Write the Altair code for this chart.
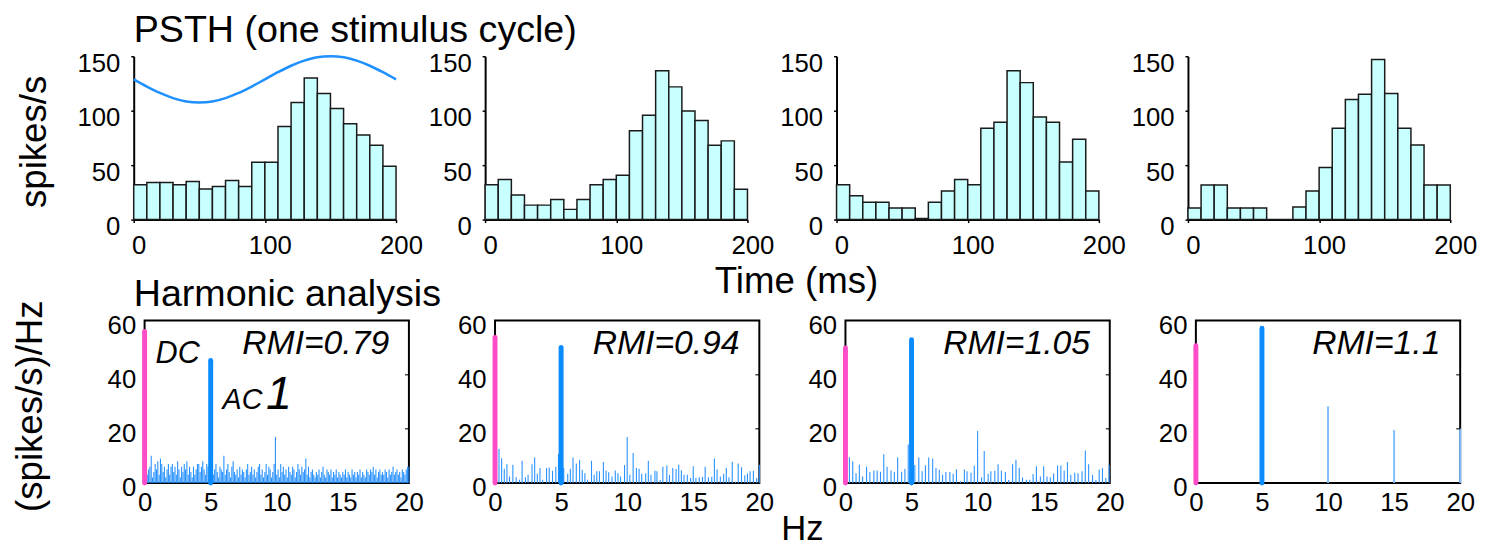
import altair as alt
import pandas as pd

FONT = "Liberation Sans"

# ---------------- data ----------------
BIN_START = [0, 10, 20, 30, 40, 50, 60, 70, 80, 90, 100, 110, 120, 130, 140, 150, 160, 170, 180, 190]
BIN_END = [10, 20, 30, 40, 50, 60, 70, 80, 90, 100, 110, 120, 130, 140, 150, 160, 170, 180, 190, 200]
PSTH_1 = [32, 34, 34, 32, 35, 28, 30.5, 36, 30.5, 52.6, 52.6, 85.6, 107.6, 130, 115.8, 102, 88, 77.7, 68.3, 49]
PSTH_2 = [32, 36.9, 22.7, 13.3, 13.3, 18.4, 9.4, 18.4, 32, 36.9, 40.8, 81.6, 95.9, 136.7, 121.9, 99.8, 91, 68.3, 72.3, 27.8]
PSTH_3 = [32, 22, 16, 16, 10.6, 10.6, 1, 16, 26.3, 36.9, 32, 84, 89.5, 136.7, 125.8, 94.3, 89.5, 52.9, 73.8, 26.3]
PSTH_4 = [10.6, 31.8, 31.8, 10.6, 10.6, 10.6, 0, 0, 11.5, 26.3, 47.8, 84, 110.4, 115.2, 147, 115.8, 84, 68.6, 31.8, 31.8]
PSTH = [PSTH_1, PSTH_2, PSTH_3, PSTH_4]

STIM_T = [0, 10, 20, 30, 40, 50, 60, 70, 80, 90, 100, 110, 120, 130, 140, 150, 160, 170, 180, 190, 200]
STIM_RATE = [128.8, 122.2, 116.3, 111.6, 108.5, 107.5, 108.5, 111.6, 116.3, 122.2, 128.8,
             135.4, 141.3, 146.0, 149.1, 150.0, 149.1, 146.0, 141.3, 135.4, 128.8]

TIME_TICKS = [0, 100, 200]
RATE_TICKS = [0, 50, 100, 150]
HZ_TICKS = [0, 5, 10, 15, 20]
DENS_TICKS = [0, 20, 40, 60]

DC = [56.0, 53.8, 49.9, 50.7]
AC1 = [45.3, 50.1, 52.9, 57.2]
RMI = ["RMI=0.79", "RMI=0.94", "RMI=1.05", "RMI=1.1"]

NOISE1_F = [round(0.1 * k, 1) for k in range(1, 201)]
NOISE1_V = [
    14, 3, 5, 6, 10, 2, 4, 7, 5, 8,
    3, 9, 7, 4, 6, 2, 5, 7, 3, 6,
    7, 4, 6, 3, 8, 5, 2, 6, 4, 7,
    5, 8, 3, 6, 4, 2, 6, 3, 5, 7,
    7, 4, 6, 8, 5, 3, 7, 6, 9, 3,
    6, 3, 5, 7, 4, 2, 6, 5, 4, 10,
    3, 5, 7, 4, 2, 6, 8, 4, 3, 5,
    2, 6, 3, 5, 4, 2, 5, 7, 3, 4,
    6, 3, 5, 2, 4, 6, 7, 3, 5, 2,
    4, 7, 3, 6, 5, 2, 4, 7, 17, 3,
    5, 2, 7, 4, 6, 3, 5, 2, 6, 4,
    3, 6, 5, 2, 4, 7, 5, 3, 6, 4,
    5, 9, 3, 6, 2, 4, 5, 3, 2, 4,
    3, 5, 2, 4, 6, 3, 2, 5, 4, 3,
    5, 2, 4, 3, 5, 2, 4, 3, 2, 4,
    3, 5, 2, 4, 3, 2, 5, 3, 4, 2,
    4, 3, 5, 2, 4, 3, 2, 5, 4, 3,
    5, 4, 6, 3, 5, 2, 4, 5, 3, 4,
    3, 5, 4, 2, 5, 3, 4, 6, 3, 4,
    5, 3, 4, 2, 5, 4, 3, 5, 6, 6,
]

NOISE2_F = [0.3, 0.5, 0.7, 0.9, 1.1, 1.35, 1.6, 1.85, 2.05, 2.3, 2.5, 2.8, 3.0, 3.2, 3.4, 3.6, 3.9,
            4.1, 4.35, 4.6, 4.8, 5.2, 5.5, 5.7, 5.9, 6.15, 6.4, 6.6, 6.8, 7.0, 7.3, 7.5, 7.7, 7.9,
            8.2, 8.4, 8.6, 8.85, 9.1, 9.3, 9.5, 9.8, 10.0, 10.2, 10.45, 10.7, 10.9, 11.1, 11.4,
            11.6, 11.8, 12.1, 12.25, 12.5, 12.7, 13.0, 13.2, 13.45, 13.7, 13.9, 14.1, 14.3, 14.55,
            14.8, 15.0, 15.2, 15.45, 15.7, 15.9, 16.15, 16.4, 16.6, 16.8, 17.05, 17.3, 17.5, 17.7,
            17.95, 18.2, 18.4, 18.65, 18.9, 19.1, 19.3, 19.55, 19.8, 20.0]
NOISE2_V = [12.5, 9.1, 5.2, 6.9, 2.4, 6.7, 2.1, 1.2, 8.2, 2.1, 3.0, 6.9, 9.4, 3.4, 5.5, 1.2, 5.5,
            5.7, 4.5, 6.0, 10.8, 5.5, 3.4, 5.2, 9.4, 7.2, 8.5, 4.9, 3.6, 1.2, 8.2, 3.0, 4.3, 4.3,
            7.7, 4.6, 3.9, 2.4, 4.6, 3.6, 2.4, 6.6, 17.0, 3.0, 11.1, 5.5, 5.2, 3.4, 3.6,
            8.2, 3.0, 4.5, 4.3, 1.1, 6.0, 6.4, 3.0, 5.5, 5.1, 6.7, 4.7, 3.0, 3.0,
            1.8, 6.2, 1.8, 2.1, 2.2, 6.0, 2.1, 2.3, 9.0, 5.0, 2.4, 3.4, 5.5, 2.1,
            7.7, 0.4, 7.2, 5.8, 2.8, 3.5, 4.3, 4.5, 1.8, 6.7]

NOISE3_F = [0.3, 0.55, 0.8, 1.05, 1.3, 1.6, 1.85, 2.15, 2.4, 2.65, 2.9, 3.15, 3.45, 3.7, 3.95,
            4.25, 4.5, 4.75, 5.25, 5.55, 5.8, 6.05, 6.3, 6.6, 6.85, 7.1, 7.35, 7.6, 7.9, 8.15,
            8.4, 8.7, 9.0, 9.2, 9.5, 9.75, 10.0, 10.3, 10.5, 10.8, 11.0, 11.3, 11.55, 11.8,
            12.1, 12.35, 12.65, 12.9, 13.15, 13.4, 13.7, 13.95, 14.2, 14.45, 14.75, 15.0, 15.25,
            15.5, 15.75, 16.05, 16.3, 16.55, 16.8, 17.05, 17.35, 17.6, 17.9, 18.15, 18.4,
            18.7, 18.95, 19.2, 19.45, 19.7, 19.95]
NOISE3_V = [9.5, 8.0, 3.6, 6.7, 2.4, 6.0, 4.0, 4.6, 4.6, 4.1, 10.6, 6.0, 4.6, 4.0, 9.4,
            4.1, 5.2, 14.2, 6.6, 9.4, 4.3, 6.4, 9.4, 9.0, 5.5, 4.9, 3.0, 4.0, 4.0, 3.4,
            5.0, 0.6, 5.0, 4.3, 3.8, 6.3, 19.2, 2.1, 11.8, 3.4, 4.3, 4.5, 6.9, 4.5,
            4.0, 1.1, 6.9, 8.6, 5.6, 2.0, 1.2, 1.2, 3.3, 6.2, 2.4, 6.2, 2.4,
            2.1, 3.5, 6.4, 6.4, 4.6, 7.7, 3.0, 3.8, 3.6, 4.3, 12.0, 6.9,
            3.0, 1.1, 5.0, 5.5, 1.8, 6.7]

NOISE4_F = [10, 15, 20]
NOISE4_V = [28.3, 19.5, 20.1]

NOISE_F = [NOISE1_F, NOISE2_F, NOISE3_F, NOISE4_F]
NOISE_V = [NOISE1_V, NOISE2_V, NOISE3_V, NOISE4_V]

INNER_TICK_V = [20, 40]

# ---------------- styling ----------------
BAR_FILL = "#C8FFFF"
BAR_STROKE = "#1a1a1a"
SINE_BLUE = "#1E90FF"
PINK = "#FF4CC8"
AC_BLUE = "#0A8CFF"
NOISE_BLUE = "#2A92FF"

TOP_W, TOP_H = 265, 165
BOT_W, BOT_H = 267, 164

LABEL_FS = 26
TITLE_FS = 38


def spacer(w):
    return alt.Chart(pd.DataFrame({"s": [0]})).mark_point(size=0, opacity=0).encode(
        x=alt.X("s:Q", axis=None), y=alt.Y("s:Q", axis=None)
    ).properties(width=w, height=1, view=alt.ViewBackground(stroke="transparent"))


def psth_panel(i):
    first = i == 0
    xaxis_kw = dict(values=TIME_TICKS, labelFontSize=LABEL_FS, labelFlush=False, labelOverlap=False,
                    tickSize=3, tickWidth=1.5, tickColor="black", domainColor="black", domainWidth=2,
                    labelPadding=10, labelOffset=5, grid=False)
    yaxis_kw = dict(values=RATE_TICKS, labelFontSize=LABEL_FS, labelOverlap=False,
                    tickSize=3, tickWidth=1.5, tickColor="black", domainColor="black", domainWidth=2,
                    labelPadding=11, labelOffset=7, grid=False)
    if first:
        xaxis_kw.update(title="Time (ms)", titleX=669, titleY=74, titleAlign="center",
                        titleBaseline="alphabetic", titleFontSize=37)
        yaxis_kw.update(title="spikes/s", titleX=-89, titleY=86, titleAlign="center",
                        titleBaseline="alphabetic", titleAngle=270, titleFontSize=37)
    else:
        xaxis_kw.update(title=None)
        yaxis_kw.update(title=None)

    x = alt.X("x:Q", scale=alt.Scale(domain=[0, 200], nice=False, zero=False), axis=alt.Axis(**xaxis_kw))
    y = alt.Y("y:Q", scale=alt.Scale(domain=[0, 150], nice=False), axis=alt.Axis(**yaxis_kw))

    df = pd.DataFrame({"x": BIN_START, "x2": BIN_END, "y": PSTH[i]})
    bars = alt.Chart(df).mark_rect(fill=BAR_FILL, stroke=BAR_STROKE, strokeWidth=1.5).encode(
        x=x, x2="x2:Q", y=y, y2=alt.datum(0)
    )
    layers = [bars]
    if first:
        sine = alt.Chart(pd.DataFrame({"x": STIM_T, "y": STIM_RATE})).mark_line(
            color=SINE_BLUE, strokeWidth=2.5, interpolate="monotone"
        ).encode(x=x, y=y)
        layers.append(sine)
    return alt.layer(*layers).properties(
        width=TOP_W, height=TOP_H, view=alt.ViewBackground(stroke="transparent")
    )


def spectrum_panel(i):
    first = i == 0
    xaxis_kw = dict(values=HZ_TICKS, labelFontSize=LABEL_FS, labelFlush=False, labelOverlap=False,
                    tickSize=0, domain=False, labelPadding=7, grid=False)
    yaxis_kw = dict(values=DENS_TICKS, labelFontSize=LABEL_FS, labelOverlap=False,
                    tickSize=0, domain=False, labelPadding=9, labelOffset=5, grid=False)
    if first:
        xaxis_kw.update(title="Hz", titleX=664, titleY=57, titleAlign="center",
                        titleBaseline="alphabetic", titleFontSize=35)
        yaxis_kw.update(title="(spikes/s)/Hz", titleX=-104, titleY=86, titleAlign="center",
                        titleBaseline="alphabetic", titleAngle=270, titleFontSize=37)
    else:
        xaxis_kw.update(title=None)
        yaxis_kw.update(title=None)

    x = alt.X("f:Q", scale=alt.Scale(domain=[0, 20], nice=False, zero=False), axis=alt.Axis(**xaxis_kw))
    y = alt.Y("v:Q", scale=alt.Scale(domain=[0, 60], nice=False), axis=alt.Axis(**yaxis_kw))

    noise_w = 2 if i == 3 else 1.1
    noise_c = "#7FBFFF" if i == 3 else NOISE_BLUE
    noise = alt.Chart(pd.DataFrame({"f": NOISE_F[i], "v": NOISE_V[i]})).mark_rule(
        color=noise_c, strokeWidth=noise_w
    ).encode(x=x, y=y, y2=alt.datum(0))
    dc = alt.Chart(pd.DataFrame({"f": [0], "v": [DC[i]]})).mark_rule(
        color=PINK, strokeWidth=5, strokeCap="round"
    ).encode(x=x, y=y, y2=alt.datum(0))
    ac = alt.Chart(pd.DataFrame({"f": [5], "v": [AC1[i]]})).mark_rule(
        color=AC_BLUE, strokeWidth=5, strokeCap="round"
    ).encode(x=x, y=y, y2=alt.datum(0))
    ticks = alt.Chart(pd.DataFrame({"f": [20, 20], "v": INNER_TICK_V})).mark_tick(
        orient="horizontal", color="black", thickness=1.5, size=8, clip=True
    ).encode(x=x, y=y)
    rmi = alt.Chart(pd.DataFrame({"f": [20], "v": [60], "t": [RMI[i]]})).mark_text(
        align="right", baseline="alphabetic", dx=-20, dy=34, fontSize=34,
        fontStyle="italic", font=FONT, color="black"
    ).encode(x=x, y=y, text="t:N")
    layers = [noise, dc, ac, ticks, rmi]
    if first:
        dct = alt.Chart(pd.DataFrame({"f": [0], "v": [60], "t": ["DC"]})).mark_text(
            align="left", baseline="alphabetic", dx=11, dy=43, fontSize=31,
            fontStyle="italic", font=FONT, color="black"
        ).encode(x=x, y=y, text="t:N")
        act = alt.Chart(pd.DataFrame({"f": [5], "v": [60], "t": ["AC"]})).mark_text(
            align="left", baseline="alphabetic", dx=12, dy=89, fontSize=29,
            fontStyle="italic", font=FONT, color="black"
        ).encode(x=x, y=y, text="t:N")
        one = alt.Chart(pd.DataFrame({"f": [5], "v": [60], "t": ["1"]})).mark_text(
            align="left", baseline="alphabetic", dx=56, dy=89, fontSize=47,
            fontStyle="italic", font=FONT, color="black"
        ).encode(x=x, y=y, text="t:N")
        layers += [dct, act, one]
    return alt.layer(*layers).properties(
        width=BOT_W, height=BOT_H, view=alt.ViewBackground(stroke="black", strokeWidth=2)
    )


top_row = alt.hconcat(
    spacer(1), *[psth_panel(i) for i in range(4)], spacing=90, bounds="flush",
    title=alt.TitleParams("PSTH (one stimulus cycle)", anchor="start", frame="group",
                          fontSize=TITLE_FS, font=FONT, fontWeight="normal",
                          baseline="alphabetic", offset=9, dx=91, dy=39, color="black"),
)
bottom_row = alt.hconcat(
    spacer(15), *[spectrum_panel(i) for i in range(4)], spacing=87, bounds="flush",
    title=alt.TitleParams("Harmonic analysis", anchor="start", frame="group",
                          fontSize=TITLE_FS, font=FONT, fontWeight="normal",
                          baseline="alphabetic", offset=9, dx=91, dy=54, color="black"),
)

chart = alt.vconcat(top_row, bottom_row, spacing=-25).properties(
    padding={"left": 3, "top": 1, "right": 0, "bottom": 0}, background="white"
).configure_axis(
    labelFont=FONT, titleFont=FONT, labelColor="black", titleColor="black",
    titleFontWeight="normal",
).configure_title(font=FONT)

chart.save("out.html", embed_options={"renderer": "svg", "actions": False})
